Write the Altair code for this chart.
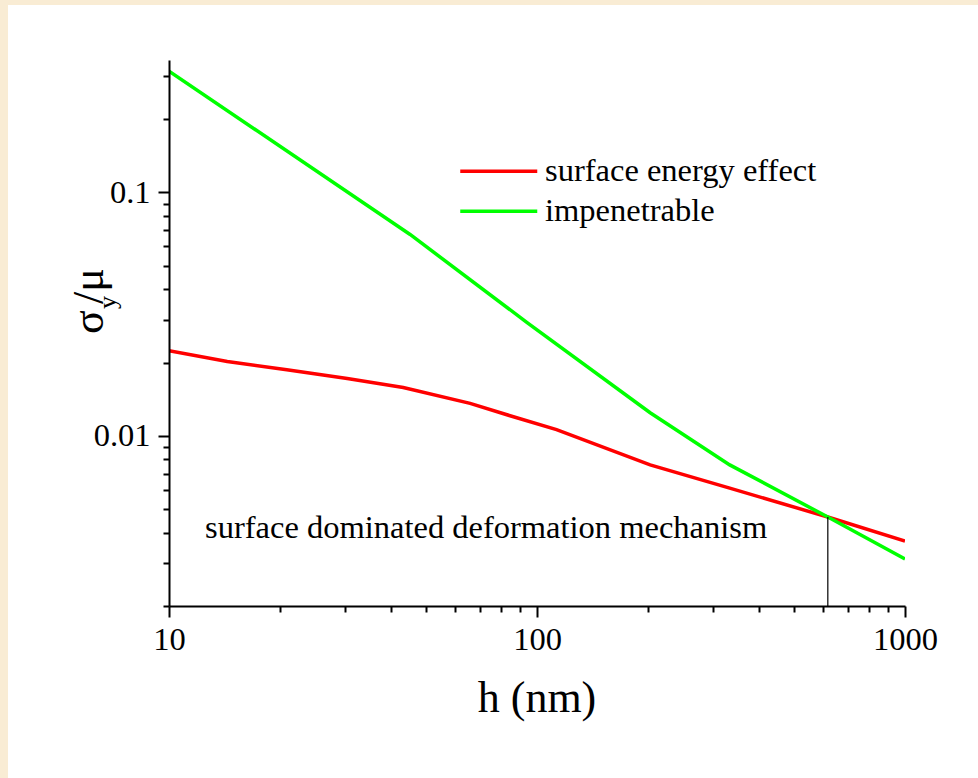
import altair as alt
import pandas as pd

# --- data ---
series_names = ["surface energy effect", "impenetrable"]
series_colors = ["#FF0000", "#00FF00"]

h_surface = [10, 14.4, 20.9, 30.5, 43.3, 65.8, 84.5, 113, 203, 334, 617, 1000]
s_surface = [0.0224, 0.0202, 0.0187, 0.0172, 0.0158, 0.0136, 0.0121, 0.0106,
             0.0076, 0.0061, 0.00464, 0.0037]

h_imp = [10, 45.2, 94, 203, 334, 617, 1000]
s_imp = [0.315, 0.0672, 0.0292, 0.01245, 0.0076, 0.00464, 0.00312]

cross_h = [617]
cross_s = [0.00464]
y_floor = [0.002]

x_ticks = [10, 20, 30, 40, 50, 60, 70, 80, 90, 100, 200, 300, 400, 500, 600,
           700, 800, 900, 1000]
y_ticks = [0.002, 0.003, 0.004, 0.005, 0.006, 0.007, 0.008, 0.009, 0.01,
           0.02, 0.03, 0.04, 0.05, 0.06, 0.07, 0.08, 0.09, 0.1, 0.2, 0.3]

annotation = "surface dominated deformation mechanism"
x_title = "h (nm)"

# --- tables ---
rows = []
for h, s in zip(h_surface, s_surface):
    rows.append({"h": h, "s": s, "series": series_names[0]})
for h, s in zip(h_imp, s_imp):
    rows.append({"h": h, "s": s, "series": series_names[1]})
df = pd.DataFrame(rows)
cross = pd.DataFrame({"h": cross_h, "s": cross_s, "s0": y_floor})

W, H = 736, 546
FONT = "Liberation Serif"
FS = 32.5
major = "abs(log(datum.value)/LN10 - round(log(datum.value)/LN10)) < 1e-6"

xscale = alt.Scale(type="log", domain=[10, 1000], nice=False)
yscale = alt.Scale(type="log", domain=[0.002, 0.35], nice=False)

common_axis = dict(
    grid=False, domainColor="black", domainWidth=2, tickColor="black",
    tickWidth=2, labelFont=FONT, labelFontSize=FS, labelColor="black",
    labelOverlap=False, labelFlush=False, labelBound=False, zindex=1,
    labelExpr=f"({major}) ? datum.label : ''",
    tickSize={"condition": {"test": major, "value": 11}, "value": 6},
    title=None,
)

xaxis = alt.Axis(values=x_ticks, format="d", labelPadding=6, **common_axis)
yaxis = alt.Axis(values=y_ticks, format="~g", labelPadding=8, **common_axis)

one = alt.Data(values=[{}])

panel = alt.Chart(one).mark_rect(color="white").encode(
    x=alt.value(-161), x2=alt.value(W + 73), y=alt.value(-55), y2=alt.value(H + 172)
)

lines = alt.Chart(df).mark_line(strokeWidth=3.5, clip=True).encode(
    x=alt.X("h:Q", scale=xscale, axis=xaxis),
    y=alt.Y("s:Q", scale=yscale, axis=yaxis),
    color=alt.Color(
        "series:N",
        scale=alt.Scale(domain=series_names, range=series_colors),
        legend=alt.Legend(
            title=None, orient="none", legendX=291, legendY=95, padding=0,
            symbolType="M-7.7,0H7.7", symbolSize=100, symbolStrokeWidth=3.5,
            symbolOffset=22.5, labelOffset=30, rowPadding=7,
            labelFont=FONT, labelFontSize=FS, labelColor="black", labelLimit=0,
        ),
    ),
    order="h:Q",
)

vrule = alt.Chart(cross).mark_rule(color="black", strokeWidth=1.2).encode(
    x=alt.X("h:Q", scale=xscale), y=alt.Y("s:Q", scale=yscale), y2="s0:Q"
)

note = alt.Chart(one).mark_text(
    text=annotation, font=FONT, fontSize=FS, align="left", baseline="alphabetic", color="black"
).encode(x=alt.value(36), y=alt.value(478))

xt = alt.Chart(one).mark_text(
    text=x_title, font=FONT, fontSize=44, align="center", baseline="alphabetic", color="black"
).encode(x=alt.value(W / 2), y=alt.value(652))

sig = alt.Chart(one).mark_text(
    text="σ", font=FONT, fontSize=44, align="left", baseline="alphabetic", angle=270, color="black"
).encode(x=alt.value(-66), y=alt.value(274))
sub = alt.Chart(one).mark_text(
    text="y", font=FONT, fontSize=26, align="left", baseline="alphabetic", angle=270, color="black"
).encode(x=alt.value(-53), y=alt.value(249))
mu = alt.Chart(one).mark_text(
    text="/μ", font=FONT, fontSize=44, align="left", baseline="alphabetic", angle=270, color="black"
).encode(x=alt.value(-66), y=alt.value(244))

chart = alt.layer(panel, lines, vrule, note, xt, sig, sub, mu).properties(
    width=W, height=H,
    autosize=alt.AutoSizeParams(type="none"),
    padding={"left": 169, "top": 60, "right": 73, "bottom": 172},
).configure(background="#F9ECD4").configure_view(strokeWidth=0)

chart.save("out.html", embed_options={"renderer": "svg", "actions": False})
